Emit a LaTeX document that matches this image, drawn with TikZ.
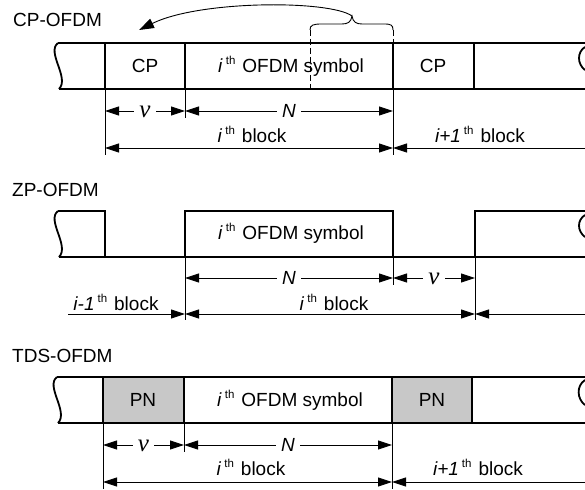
\documentclass[tikz,border=0pt]{standalone}
\usepackage{fontspec}
\setmainfont{Liberation Sans}
\newfontfamily\serifnu{Liberation Serif}
\usetikzlibrary{arrows.meta}
\definecolor{pngray}{RGB}{200,200,200}
\newcommand\thsup{\raisebox{8pt}{\fontsize{11.5}{11}\selectfont th}}
\newcommand\ith[1]{\textit{#1}\hspace{3pt}\thsup\hspace{7pt}}
\newcommand\nusym{{\fontsize{25}{25}\selectfont\serifnu\itshape ν}}
\tikzset{
  thickln/.style={line width=1.8pt},
  thinln/.style={line width=0.9pt},
  dimboth/.style={thinln,{Triangle[length=14pt,width=9pt]}-{Triangle[length=14pt,width=9pt]}},
  dimleft/.style={thinln,{Triangle[length=14pt,width=9pt]}-},
  dimright/.style={thinln,-{Triangle[length=14pt,width=9pt]}},
  lbl/.style={font=\fontsize{19}{22}\selectfont, inner sep=0pt},
  gaplbl/.style={font=\fontsize{19}{22}\selectfont, fill=white, inner xsep=5pt, inner ysep=1pt},
  dashln/.style={thinln, dash pattern=on 6pt off 3pt},
}
\begin{document}
\begin{tikzpicture}[x=1pt,y=-1pt]
\useasboundingbox (0,0) rectangle (585,489);

% ---------------- CP-OFDM ----------------
\node[lbl, anchor=west] (t1) at (13,19.5) {CP-OFDM};
\draw[thickln] (58,43) -- (585,43);
\draw[thickln] (59,89) -- (585,89);
\draw[thickln] (58,43) .. controls (46,52) and (70,78) .. (59,89);
\draw[thickln] (585,47) .. controls (577,52) and (577,64) .. (585,70);
\foreach \x in {105,185,393,474} \draw[thickln] (\x,43) -- (\x,89);
\node[lbl] (cp1) at (145,66) {CP};
\node[lbl] (sym1) at (291,66) {\ith{i}OFDM symbol};
\node[lbl] (cp2) at (433,66) {CP};
\draw[dashln] (310,30) -- (310,89);
\draw[dashln] (393,30) -- (393,43);
\coordinate (bt) at (352,16);
\draw[thinln] (310,30) .. controls (310,25) and (313,24) .. (322,24) -- (342,24)
  .. controls (348,24) and (351,22) .. (bt)
  .. controls (353,22) and (356,24) .. (362,24) -- (384,24)
  .. controls (391,24) and (393,25) .. (393,30);
\coordinate (at) at (139,30);
\draw[thinln, -{Triangle[length=15pt,width=10pt]}] (bt) .. controls (330,0) and (200,0) .. (at);
% dimensions
\draw[thinln] (105,89) -- (105,155);
\draw[thinln] (185,89) -- (185,118);
\draw[thinln] (393,89) -- (393,155);
\draw[dimboth] (105,111) -- node[gaplbl, yshift=-1pt]{\nusym} (185,111);
\draw[dimboth] (185,111) -- node[gaplbl]{\textit{N}} (393,111);
\draw[dimboth] (105,148) -- (393,148);
\draw[dimleft] (393,148) -- (585,148);
\node[lbl] (b1) at (252,134) {\ith{i}block};
\node[lbl] (b2) at (480,134) {\ith{i+1}block};

% ---------------- ZP-OFDM ----------------
\node[lbl, anchor=west] (t2) at (12,190) {ZP-OFDM};
\draw[thickln] (58,211) .. controls (46,220) and (70,246) .. (59,257);
\draw[thickln] (58,211) -- (105,211) -- (105,257);
\draw[thickln] (59,257) -- (585,257);
\draw[thickln] (185,257) -- (185,211) -- (393,211) -- (393,257);
\draw[thickln] (475,257) -- (475,211) -- (585,211);
\draw[thickln] (585,215) .. controls (577,220) and (577,231) .. (585,237);
\node[lbl] (sym2) at (291,233) {\ith{i}OFDM symbol};
\draw[thinln] (185,257) -- (185,320);
\draw[thinln] (393,257) -- (393,285);
\draw[thinln] (475,257) -- (475,320);
\draw[dimboth] (185,278) -- node[gaplbl]{\textit{N}} (393,278);
\draw[dimboth] (393,278) -- node[gaplbl, yshift=-1pt]{\nusym} (475,278);
\draw[dimright] (68,314) -- (185,314);
\draw[dimboth] (185,314) -- (475,314);
\draw[dimleft] (475,314) -- (585,314);
\node[lbl] (b3) at (116,302) {\ith{i-1}block};
\node[lbl] (b4) at (334,302) {\ith{i}block};

% ---------------- TDS-OFDM ----------------
\node[lbl, anchor=west] (t3) at (12,356) {TDS-OFDM};
\fill[pngray] (103,377) rectangle (184,423);
\fill[pngray] (392,377) rectangle (472,423);
\draw[thickln] (57,377) -- (585,377);
\draw[thickln] (58,423) -- (585,423);
\draw[thickln] (57,377) .. controls (45,386) and (69,412) .. (58,423);
\draw[thickln] (585,380) .. controls (576,386) and (577,399) .. (585,405);
\foreach \x in {103,184,392,472} \draw[thickln] (\x,377) -- (\x,423);
\node[lbl] (pn1) at (143,400) {PN};
\node[lbl] (sym3) at (290,400) {\ith{i}OFDM symbol};
\node[lbl] (pn2) at (432,400) {PN};
\draw[thinln] (103,423) -- (103,489);
\draw[thinln] (184,423) -- (184,452);
\draw[thinln] (392,423) -- (392,489);
\draw[dimboth] (103,445) -- node[gaplbl, yshift=-1pt]{\nusym} (184,445);
\draw[dimboth] (184,445) -- node[gaplbl]{\textit{N}} (392,445);
\draw[dimboth] (103,482) -- (392,482);
\draw[dimleft] (392,482) -- (585,482);
\node[lbl] (b5) at (251,467) {\ith{i}block};
\node[lbl] (b6) at (478,467) {\ith{i+1}block};
\end{tikzpicture}
\end{document}
